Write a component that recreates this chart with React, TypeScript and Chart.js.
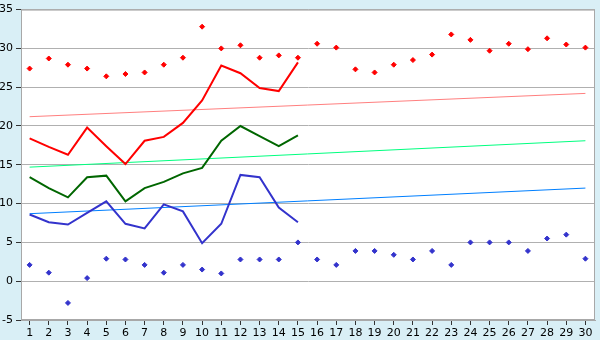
import React, { useEffect, useRef } from "react";
import { Chart, registerables } from "chart.js";
Chart.register(...registerables);

const days = [1, 2, 3, 4, 5, 6, 7, 8, 9, 10, 11, 12, 13, 14, 15, 16, 17, 18, 19, 20, 21, 22, 23, 24, 25, 26, 27, 28, 29, 30];
const lineDays = [1, 2, 3, 4, 5, 6, 7, 8, 9, 10, 11, 12, 13, 14, 15];
const maxPoints = [27.4, 28.7, 27.9, 27.4, 26.4, 26.7, 26.9, 27.9, 28.8, 32.8, 30.0, 30.4, 28.8, 29.1, 28.8, 30.6, 30.1, 27.3, 26.9, 27.9, 28.5, 29.2, 31.8, 31.1, 29.7, 30.6, 29.9, 31.3, 30.5, 30.1];
const minPoints = [2.1, 1.1, -2.8, 0.4, 2.9, 2.8, 2.1, 1.1, 2.1, 1.5, 1.0, 2.8, 2.8, 2.8, 5.0, 2.8, 2.1, 3.9, 3.9, 3.4, 2.8, 3.9, 2.1, 5.0, 5.0, 5.0, 3.9, 5.5, 6.0, 2.9];
const maxLine = [18.4, 17.3, 16.3, 19.8, 17.4, 15.1, 18.1, 18.6, 20.4, 23.3, 27.8, 26.8, 24.9, 24.5, 28.2];
const meanLine = [13.4, 12.0, 10.8, 13.4, 13.6, 10.3, 12.0, 12.8, 13.9, 14.6, 18.1, 20.0, 18.7, 17.4, 18.8];
const minLine = [8.6, 7.6, 7.3, 8.8, 10.3, 7.4, 6.8, 9.9, 9.0, 4.9, 7.4, 13.7, 13.4, 9.5, 7.6];
const trendDays = [1, 30];
const trendMax = [21.2, 24.2];
const trendMean = [14.7, 18.1];
const trendMin = [8.7, 12.0];
const yTicks = [-5, 0, 5, 10, 15, 20, 25, 30, 35];

const zip = (xs: number[], ys: number[]) => xs.map((x, i) => ({ x, y: ys[i] }));

const bgPlugin = {
  id: "bgPlugin",
  beforeDraw(chart: any) {
    const { ctx, chartArea: a, width, height } = chart;
    ctx.save();
    ctx.fillStyle = "#d9eff6";
    ctx.fillRect(0, 0, width, height);
    ctx.fillStyle = "#ffffff";
    ctx.fillRect(a.left, a.top, a.right - a.left, a.bottom - a.top);
    ctx.restore();
  },
  beforeDatasetsDraw(chart: any) {
    const { ctx, chartArea: a } = chart;
    ctx.save();
    ctx.strokeStyle = "#a8a8a8";
    ctx.lineWidth = 1;
    ctx.strokeRect(a.left + 0.5, a.top + 0.5, a.right - a.left - 1, a.bottom - a.top - 1);
    ctx.restore();
  },
};

export default function App() {
  const ref = useRef<HTMLCanvasElement>(null);
  useEffect(() => {
    if (!ref.current) return;
    const font = { family: "'DejaVu Sans', Verdana, sans-serif", size: 11 };
    const chart = new Chart(ref.current, {
      type: "line",
      data: {
        datasets: [
          { data: zip(days, maxPoints), showLine: false, pointStyle: "rectRot", pointRadius: 2.5, pointBorderWidth: 1, backgroundColor: "#ff0000", borderColor: "#ff0000" },
          { data: zip(days, minPoints), showLine: false, pointStyle: "rectRot", pointRadius: 2.5, pointBorderWidth: 1, backgroundColor: "#3333cc", borderColor: "#3333cc" },
          { data: zip(lineDays, maxLine), borderColor: "#ff0000", borderWidth: 2, pointRadius: 0, tension: 0 },
          { data: zip(lineDays, meanLine), borderColor: "#006600", borderWidth: 2, pointRadius: 0, tension: 0 },
          { data: zip(lineDays, minLine), borderColor: "#3333cc", borderWidth: 2, pointRadius: 0, tension: 0 },
          { data: zip(trendDays, trendMax), borderColor: "#ff7f7f", borderWidth: 1, pointRadius: 0 },
          { data: zip(trendDays, trendMean), borderColor: "#00ff7f", borderWidth: 1, pointRadius: 0 },
          { data: zip(trendDays, trendMin), borderColor: "#007fff", borderWidth: 1, pointRadius: 0 },
        ],
      },
      options: {
        responsive: false,
        animation: false,
        events: [],
        layout: { padding: { top: 5, right: 5, left: 0, bottom: 0 } },
        plugins: { legend: { display: false }, tooltip: { enabled: false } },
        scales: {
          x: {
            type: "linear",
            min: 0.55,
            max: 30.5,
            afterBuildTicks: (s: any) => { s.ticks = days.map((v) => ({ value: v })); },
            afterFit: (s: any) => { s.height = 20; },
            grid: { drawOnChartArea: false, drawTicks: true, tickLength: 5, color: "#a0a0a0", tickColor: "#333333" },
            border: { display: true, color: "#a8a8a8" },
            ticks: { font, color: "#000", padding: 2, maxRotation: 0, autoSkip: false, callback: (v: any) => String(v) },
          },
          y: {
            min: -5,
            max: 35,
            afterBuildTicks: (s: any) => { s.ticks = yTicks.map((v) => ({ value: v })); },
            afterFit: (s: any) => { s.width = 21; },
            grid: { color: "#b0b0b0", tickLength: 5, drawTicks: true, tickColor: "#333333" },
            border: { display: true, color: "#a8a8a8" },
            ticks: { font, color: "#000", padding: 3, callback: (v: any) => String(v) },
          },
        },
      },
      plugins: [bgPlugin],
    });
    return () => chart.destroy();
  }, []);
  return (
    <div style={{ position: "absolute", left: 0, top: 0, width: 600, height: 340 }}>
      <canvas ref={ref} width={600} height={340} />
    </div>
  );
}
